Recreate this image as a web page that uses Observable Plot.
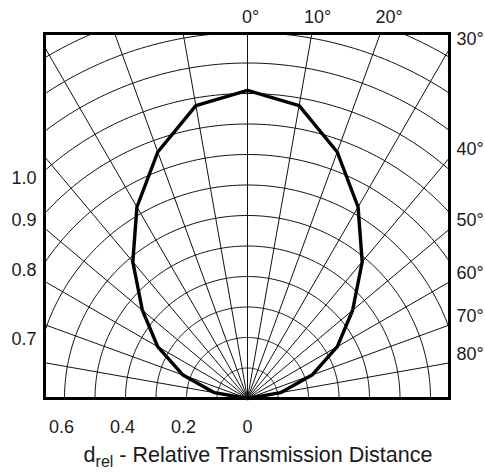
<!DOCTYPE html>
<html><head><meta charset="utf-8">
<script src="https://cdn.jsdelivr.net/npm/d3@7"></script>
<script src="https://cdn.jsdelivr.net/npm/@observablehq/plot@0.6"></script>
<style>
body{margin:0;background:#fff;font-family:"Liberation Sans",Arial,sans-serif;}
#wrap{position:relative;width:485px;height:472px;}
#cap{position:absolute;top:445px;left:258px;transform:translateX(-50%);font-size:21.5px;line-height:21.5px;white-space:nowrap;color:#1a1a1a;}
#cap span{position:relative;top:5px;font-size:16px;}
</style></head><body>
<div id="wrap"><div id="chart"></div><div id="cap">d<span>rel</span> - Relative Transmission Distance</div></div>
<script>
// data (one side; pattern is symmetric)
const angles = [0, 10, 20, 30, 40, 50, 60, 70, 80, 90];
const drel   = [1.01, 0.975, 0.86, 0.725, 0.585, 0.45, 0.34, 0.225, 0.11, 0];
// grid and labels
const gridAngles = [-90,-80,-70,-60,-50,-40,-30,-20,-10,0,10,20,30,40,50,60,70,80,90];
const gridRadii = [0.1,0.2,0.3,0.4,0.5,0.6,0.7,0.8,0.9,1.0,1.1,1.2,1.3];
const bottomTicks = [0.6, 0.4, 0.2];
const zeroTick = [0];
const leftLabels = [1.0, 0.9, 0.8, 0.7];
const rightLabels = [30, 40, 50, 60, 70, 80];
const topLabels = [0, 10, 20];

const W = 485, H = 440, mL = 44, mR = 36, mT = 33, mB = 42;
const X0 = 247, U = 305;
const xmin = -(X0 - mL) / U, xmax = (W - mR - X0) / U, ymax = (H - mB - mT) / U;
const rad = a => a * Math.PI / 180;

const curvePts = [];
for (let i = angles.length - 1; i >= 0; i--) curvePts.push({a: -angles[i], r: drel[i]});
for (let i = 1; i < angles.length; i++) curvePts.push({a: angles[i], r: drel[i]});

const circlePts = [];
for (const r of gridRadii) for (let a = -90; a <= 90; a += 1) circlePts.push({r, a});

const font = {fontSize: 18, fill: "#1a1a1a", fontFamily: "Liberation Sans, Arial, sans-serif"};
const topExt = ymax + 16 / U;

const chart = Plot.plot({
  width: W, height: H,
  marginLeft: mL, marginRight: mR, marginTop: mT, marginBottom: mB,
  x: {domain: [xmin, xmax], axis: null},
  y: {domain: [0, ymax], axis: null},
  style: {background: "#fff", overflow: "visible"},
  marks: [
    Plot.line(circlePts, {x: d => d.r * Math.sin(rad(d.a)), y: d => d.r * Math.cos(rad(d.a)), z: "r", stroke: "#111", strokeWidth: 1, clip: true}),
    Plot.link(gridAngles, {x1: () => 0, y1: () => 0, x2: a => 2 * Math.sin(rad(a)), y2: a => 2 * Math.cos(rad(a)), stroke: "#111", strokeWidth: 1, clip: true}),
    Plot.line(curvePts, {x: d => d.r * Math.sin(rad(d.a)), y: d => d.r * Math.cos(rad(d.a)), stroke: "#000", strokeWidth: 3.4, strokeLinejoin: "round"}),
    Plot.frame({stroke: "#000", strokeWidth: 3}),
    Plot.text(bottomTicks, {x: d => -d, y: () => 0, text: d => d.toFixed(1), dy: 29, dx: -3, ...font}),
    Plot.text(zeroTick, {x: d => d, y: () => 0, text: d => "0", dy: 29, ...font}),
    Plot.text(leftLabels, {x: () => xmin, y: r => Math.sqrt(r * r - xmin * xmin), text: d => d.toFixed(1), textAnchor: "end", dx: -8, dy: 7, ...font}),
    Plot.text(rightLabels, {x: () => xmax, y: a => xmax / Math.tan(rad(a)), text: a => a + "°", textAnchor: "start", dx: 7, dy: -9, ...font}),
    Plot.text(topLabels, {x: a => topExt * Math.tan(rad(a)), y: () => ymax, text: a => a + "°", dy: -16, dx: 3, ...font})
  ]
});
document.getElementById("chart").appendChild(chart);
</script>
</body></html>
